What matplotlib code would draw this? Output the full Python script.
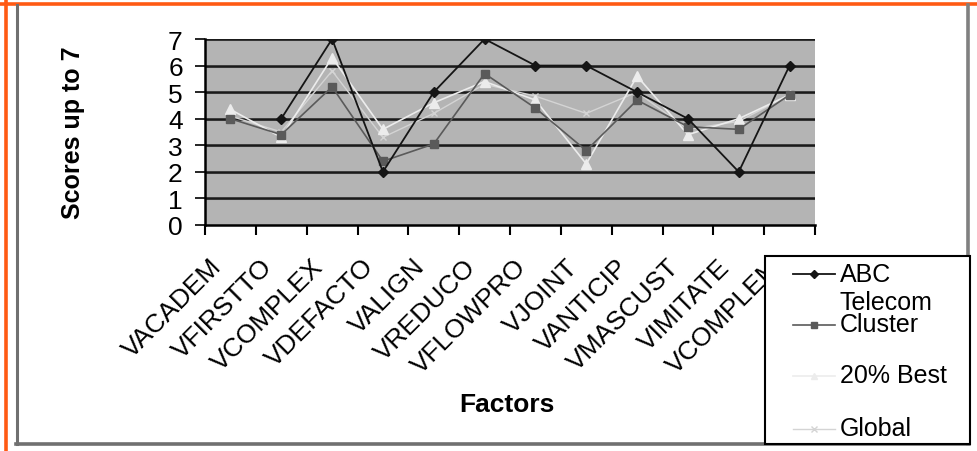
import numpy as np
import matplotlib.pyplot as plt
import matplotlib.transforms as mtrans
from matplotlib.lines import Line2D
from matplotlib.patches import Rectangle
from matplotlib.transforms import ScaledTranslation

plt.rcParams['font.family'] = ['Liberation Sans', 'DejaVu Sans']

categories = ["VACADEM", "VFIRSTTO", "VCOMPLEX", "VDEFACTO", "VALIGN", "VREDUCO",
              "VFLOWPRO", "VJOINT", "VANTICIP", "VMASCUST", "VIMITATE", "VCOMPLEM"]
abc = [np.nan, 4, 7, 2, 5, 7, 6, 6, 5, 4, 2, 6]
telecom = [4.0, 3.4, 5.2, 2.4, 3.05, 5.7, 4.4, 2.8, 4.7, 3.7, 3.6, 4.9]
best20 = [4.35, 3.3, 6.3, 3.6, 4.6, 5.4, 4.7, 2.3, 5.6, 3.4, 4.0, 4.9]
global_ = [4.1, 3.5, 5.8, 3.3, 4.2, 5.3, 4.85, 4.2, 5.0, 3.6, 3.9, 4.9]
yticks = [0, 1, 2, 3, 4, 5, 6, 7]

W, H = 977, 452
fig = plt.figure(figsize=(W / 100, H / 100), dpi=100)

def fx(px):
    return px / W

def fy(py):
    return 1 - py / H

# decorative frame
def fl(x0, y0, x1, y1, color, lw, z=1):
    fig.add_artist(Line2D([fx(x0), fx(x1)], [fy(y0), fy(y1)],
                          transform=fig.transFigure, color=color, lw=lw, zorder=z))
fl(0, 5, W, 5, '#ff5a14', 2.6)
fl(6, 0, 6, H, '#ff5a14', 2.6)
fl(17, 6, 17, 445, '#707070', 2.2)
fl(16, 445, 969, 445, '#707070', 2.6)
fl(968, 6, 968, 445, '#808080', 2.6)

ax = fig.add_axes([fx(205), fy(226), 610 / W, 186 / H])
ax.set_facecolor('#b4b4b4')
x = np.arange(len(categories))

for y in yticks[1:]:
    ax.axhline(y - 0.04, color='#888888', lw=1.5, zorder=1)
    ax.axhline(y, color='#1a1a1a', lw=1.8, zorder=1.5)

styles = {
    'Global': dict(color='#d4d4d4', lw=1.0, marker='x', ms=4, mew=1, zorder=3),
    '20% Best': dict(color='#ececec', lw=1.2, marker='^', ms=6.5, zorder=4),
    'Telecom\nCluster': dict(color='#5a5a5a', lw=1.2, marker='s', ms=5.5, zorder=5),
    'ABC': dict(color='#151515', lw=1.3, marker='D', ms=5.5, zorder=6),
}
ax.plot(x, global_, **styles['Global'])
ax.plot(x, best20, **styles['20% Best'])
ax.plot(x, telecom, **styles['Telecom\nCluster'])
ax.plot(x, abc, **styles['ABC'])

ax.set_xlim(-0.5, len(categories) - 0.5)
ax.set_ylim(0, 7)
ax.set_yticks(yticks)
ax.set_yticklabels([str(v) for v in yticks], fontsize=19)
ax.set_xticks(np.arange(-0.5, len(categories)))
ax.set_xticklabels([])
ax.tick_params(axis='x', length=7, width=1.5, direction='out')
ax.tick_params(axis='y', length=7, width=1.2, direction='out', pad=9)

# category labels, rotated
blend = mtrans.blended_transform_factory(ax.transData, ax.transAxes)
off = ScaledTranslation(-21 / 100, -29 / 100, fig.dpi_scale_trans)
for i, c in enumerate(categories):
    ax.text(i, 0, c, transform=blend + off, rotation=45, rotation_mode='anchor',
            ha='right', va='top', fontsize=19, clip_on=False)

for s in ['top', 'right']:
    ax.spines[s].set_visible(False)
ax.spines['left'].set_linewidth(1.8)
ax.spines['bottom'].set_linewidth(1.8)

fig.text(fx(73), fy(133), 'Scores up to 7', rotation=90, ha='center', va='center',
         fontsize=18, fontweight='bold')
fig.text(fx(507), fy(405), 'Factors', ha='center', va='center',
         fontsize=19, fontweight='bold')

# legend box
fig.add_artist(Rectangle((fx(765), fy(445)), (970 - 765) / W, (445 - 257) / H,
                         transform=fig.transFigure, facecolor='white',
                         edgecolor='black', lw=1.5, zorder=10))
legend_items = [('ABC', 275, [(840, 275, 'ABC')]),
                ('Telecom\nCluster', 326, [(840, 303, 'Telecom'), (840, 325, 'Cluster')]),
                ('20% Best', 377, [(840, 376, '20% Best')]),
                ('Global', 430, [(840, 429, 'Global')])]
for key, hy, texts in legend_items:
    st = styles[key]
    fig.add_artist(Line2D([fx(793), fx(835)], [fy(hy), fy(hy)], transform=fig.transFigure,
                          zorder=11, color=st['color'], lw=st['lw']))
    fig.add_artist(Line2D([fx(814)], [fy(hy)], transform=fig.transFigure, zorder=12,
                          color=st['color'], marker=st['marker'], ms=4,
                          mew=st.get('mew', 1), linestyle='none'))
    for tx, ty, s in texts:
        fig.text(fx(tx), fy(ty), s, ha='left', va='center', fontsize=18, zorder=12)

fig.savefig('out.png', dpi=100)
